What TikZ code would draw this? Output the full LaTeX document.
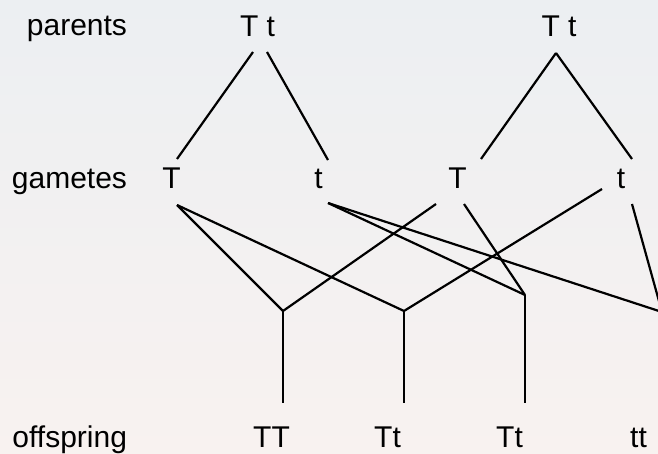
\documentclass[tikz,border=0pt]{standalone}
\usepackage{fontspec}
\setmainfont{Liberation Sans}
\definecolor{bgtop}{RGB}{236,239,242}
\definecolor{bgbot}{RGB}{248,242,240}
\begin{document}
\begin{tikzpicture}[x=1pt,y=-1pt,
  lab/.style={inner sep=0pt,outer sep=0pt,anchor=base,font=\fontsize{30}{36}\selectfont},
  rowlab/.style={lab,anchor=base east},
  link/.style={line width=2.2pt,line cap=butt}]
\clip (0,0) rectangle (658,454);
\shade[top color=bgtop, bottom color=bgbot] (0,0) rectangle (658,454);
% row labels
\node[rowlab] (rp) at (127,36) {parents};
\node[rowlab] (rg) at (127,189) {gametes};
\node[rowlab] (ro) at (127,447) {offspring};
% parents
\node[lab] (p1) at (257.5,37) {T t};
\node[lab] (p2) at (559,37) {T t};
% gametes
\node[lab] (g1) at (171.5,189) {T};
\node[lab] (g2) at (318.5,189) {t};
\node[lab] (g3) at (457.5,189) {T};
\node[lab] (g4) at (621,189) {t};
% offspring
\node[lab] (o1) at (271.5,447) {TT};
\node[lab] (o2) at (387.5,447) {Tt};
\node[lab] (o3) at (509.5,447) {Tt};
\node[lab] (o4) at (638.5,447) {tt};
% connector end points
\coordinate (p1a) at (253,52);
\coordinate (p1b) at (267,52);
\coordinate (p2a) at (556,53);
\coordinate (g1t) at (177,159);
\coordinate (g2t) at (328,160);
\coordinate (g3t) at (481,159);
\coordinate (g4t) at (632,159);
\coordinate (g1b) at (177,205);
\coordinate (g2b) at (328,203);
\coordinate (g3l) at (436,204);
\coordinate (g3r) at (464,204);
\coordinate (g4l) at (602,189);
\coordinate (g4r) at (632,204);
\coordinate (j1) at (283,311);
\coordinate (j2) at (404,311);
\coordinate (j3) at (525,295);
\coordinate (j4) at (662,312);
\coordinate (e1) at (283,403);
\coordinate (e2) at (404,403);
\coordinate (e3) at (525,403);
\coordinate (e4) at (662,403);
% parents to gametes
\draw[link] (p1a) -- (g1t);
\draw[link] (p1b) -- (g2t);
\draw[link] (p2a) -- (g3t);
\draw[link] (p2a) -- (g4t);
% gametes to junctions
\draw[link] (g1b) -- (j1);
\draw[link] (g1b) -- (j2);
\draw[link] (g2b) -- (j3);
\draw[link] (g2b) -- (j4);
\draw[link] (g3l) -- (j1);
\draw[link] (g3r) -- (j3);
\draw[link] (g4l) -- (j2);
\draw[link] (g4r) -- (j4);
% junctions to offspring
\draw[link] (j1) -- (e1);
\draw[link] (j2) -- (e2);
\draw[link] (j3) -- (e3);
\draw[link] (j4) -- (e4);
\end{tikzpicture}
\end{document}
